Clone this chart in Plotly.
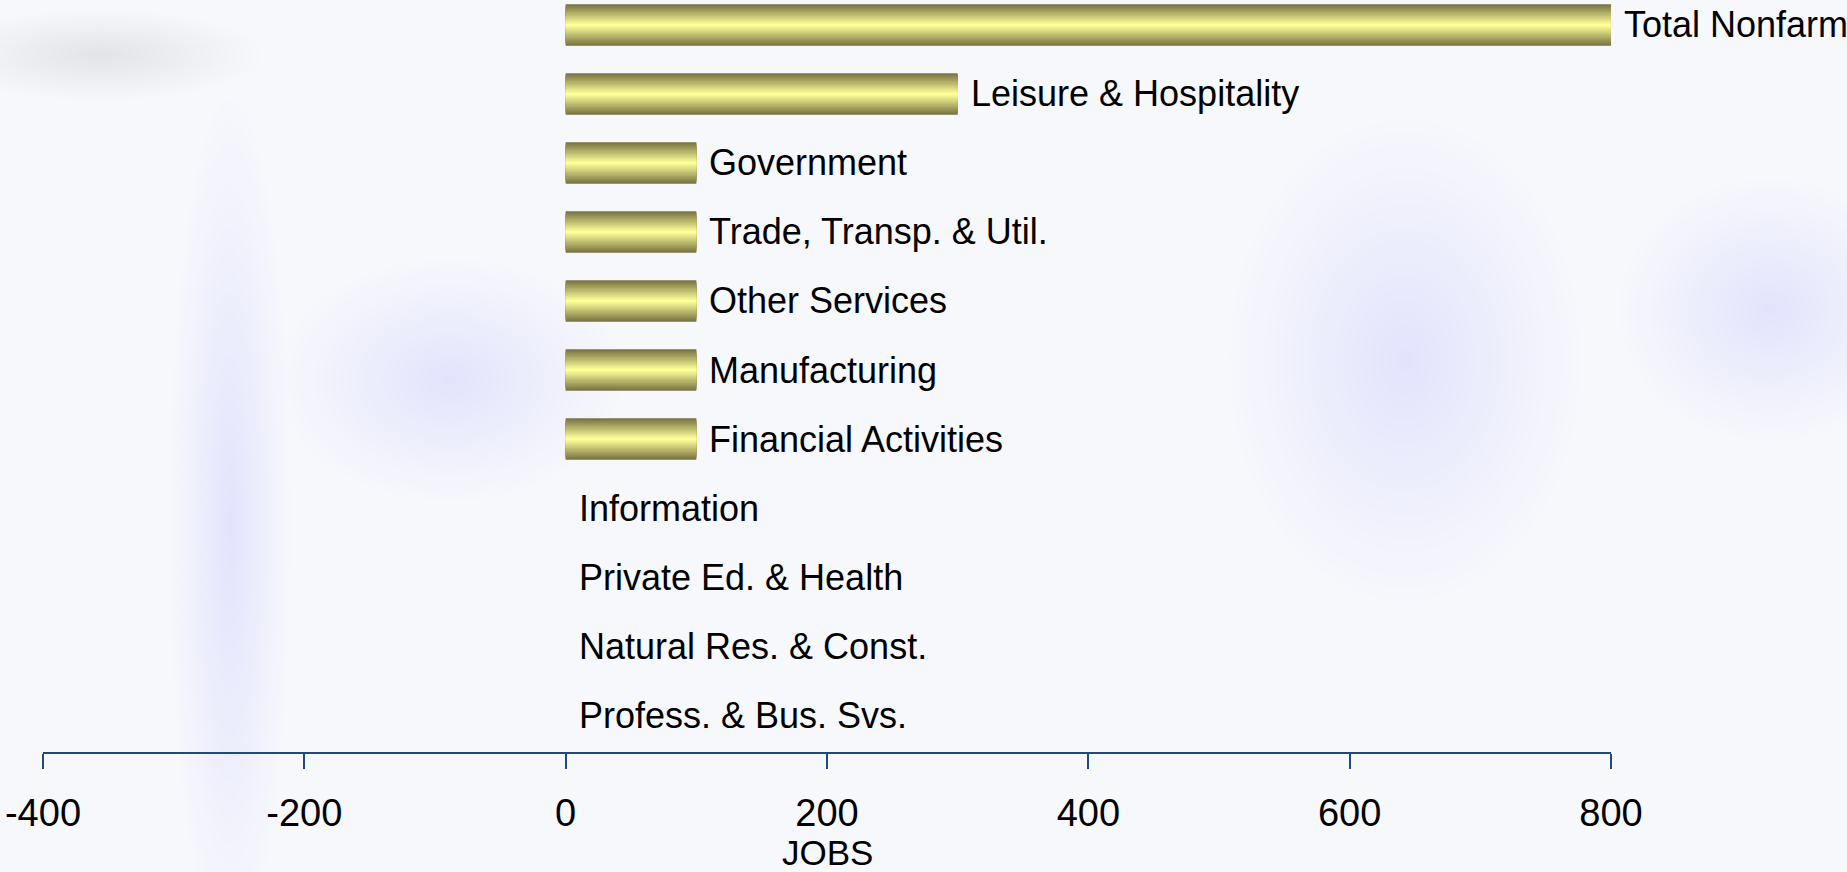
import plotly.graph_objects as go

categories = ["Total Nonfarm", "Leisure & Hospitality", "Government", "Trade, Transp. & Util.",
              "Other Services", "Manufacturing", "Financial Activities", "Information",
              "Private Ed. & Health", "Natural Res. & Const.", "Profess. & Bus. Svs."]
values = [800, 300, 100, 100, 100, 100, 100, 0, 0, 0, 0]
x_ticks = [-400, -200, 0, 200, 400, 600, 800]
x_title = "JOBS"

FONT = "Liberation Sans, Arial, sans-serif"
dark = (121, 117, 68)
light = (255, 255, 152)
N = 16
full_w = 0.6

W, H = 1847, 872
ML, MR, MT, MB = 43, 236, 0, 120
PW, PH = W - ML - MR, H - MT - MB

fig = go.Figure()
for k in range(N):
    t = k / (N - 1)
    c = tuple(round(dark[i] + (light[i] - dark[i]) * t) for i in range(3))
    w = full_w * (1 - k / N)
    fig.add_trace(go.Bar(
        x=values, y=categories, orientation="h", base=0,
        width=w, marker=dict(color="rgb(%d,%d,%d)" % c, line=dict(width=0)),
        hoverinfo="skip", showlegend=False,
    ))

for cat, v in zip(categories, values):
    fig.add_annotation(x=v, y=cat, text=cat, showarrow=False, xanchor="left", yanchor="middle",
                       xshift=11, font=dict(family=FONT, size=36, color="#000000"))

# axis title placed under the tick labels, centred on the axis
fig.add_annotation(x=0.5, xref="paper", y=-(H - MT - PH) / PH, yref="paper", yanchor="bottom",
                   text=x_title, showarrow=False, yshift=-2,
                   font=dict(family=FONT, size=35, color="#000000"))

# soft blurred background blobs (decorative), given in page pixels
def blob(x0, y0, x1, y1, rgb, steps=20, alpha=0.015, kind="circle"):
    cx, cy = (x0 + x1) / 2, (y0 + y1) / 2
    hw, hh = (x1 - x0) / 2, (y1 - y0) / 2
    for s in range(steps):
        f = 1 - s / steps
        ax0, ax1 = cx - hw * f, cx + hw * f
        ay0, ay1 = cy - hh * f, cy + hh * f
        fig.add_shape(type=kind, xref="paper", yref="paper",
                      x0=(ax0 - ML) / PW, x1=(ax1 - ML) / PW,
                      y0=(H - MB - ay1) / PH, y1=(H - MB - ay0) / PH,
                      fillcolor="rgba(%d,%d,%d,%.3f)" % (rgb + (alpha,)),
                      line=dict(width=0), layer="below")

lav = (196, 199, 226)
blob(-60, 10, 260, 100, lav, alpha=0.02)
blob(170, 100, 290, 950, lav, alpha=0.012)
blob(280, 260, 620, 500, lav, alpha=0.013)
blob(1230, 120, 1580, 600, lav, alpha=0.016)
blob(1620, 180, 1920, 440, lav, alpha=0.016)
blob(560, 280, 780, 560, lav, alpha=0.009)

fig.update_layout(
    width=W, height=H,
    margin=dict(l=ML, r=MR, t=MT, b=MB),
    barmode="overlay",
    paper_bgcolor="#f7f8fc",
    plot_bgcolor="rgba(0,0,0,0)",
    font=dict(family=FONT, color="#000000"),
    showlegend=False,
)
fig.update_xaxes(
    range=[-400, 800], tickvals=x_ticks, ticktext=[str(v) for v in x_ticks],
    showgrid=False, zeroline=False, showline=True, linecolor="#1f4a7a", linewidth=2,
    ticks="outside", ticklen=15, tickwidth=2, tickcolor="#1f4a7a",
    tickfont=dict(family=FONT, size=38, color="#000000"), ticklabelstandoff=11,
    fixedrange=True,
)
fig.update_yaxes(
    categoryorder="array", categoryarray=categories,
    range=[10.536, -0.362], visible=False, fixedrange=True,
)

fig.write_html("out.html", config={"displayModeBar": False},
               post_script="document.body.style.margin='0px';document.body.style.overflow='hidden';")
